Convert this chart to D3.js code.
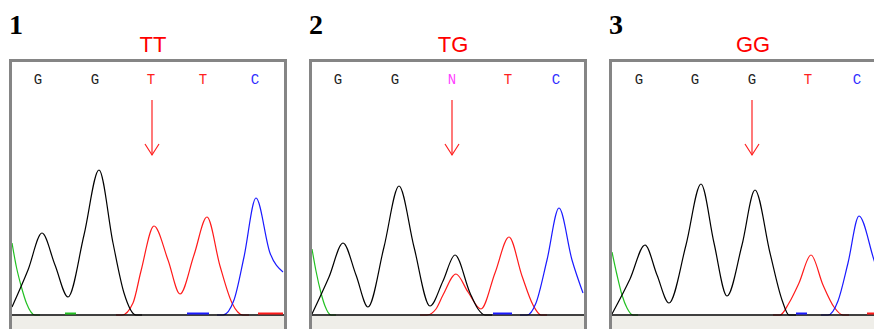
<!DOCTYPE html>
<html>
<head>
<meta charset="utf-8">
<script src="https://cdn.jsdelivr.net/npm/d3@7"></script>
<style>
  html, body { margin: 0; padding: 0; background: #fff; overflow: hidden; }
  svg { display: block; }
</style>
</head>
<body>
<script>
'use strict'

// panel headings
const panelNumbers = ['1', '2', '3']
const genotypes = ['TT', 'TG', 'GG']

// base calls printed on top of each trace, with their scan positions
const baseCalls = [
  ['G', 'G', 'T', 'T', 'C'],
  ['G', 'G', 'N', 'T', 'C'],
  ['G', 'G', 'G', 'T', 'C']
]
const basePositions = [
  [26, 83, 139, 191, 243],
  [26, 83, 140, 196, 244],
  [27, 83, 140, 196, 245]
]
const snpPosition = [140, 140, 140]

// traces: [scan position, intensity]
const panel1G = [[0, 8], [16, 45], [30, 82], [43, 50], [56, 18], [72, 80], [87, 145],
  [101, 72], [112, 22], [124, 0], [130, 0]]
const panel1A = [[0, 72], [4.4, 48], [9.4, 28], [14.4, 12], [23, 0], [28, 0]]
const panel1T = [[104, 0], [110, 0], [121, 12], [129, 44], [142, 89], [156, 55], [168, 21],
  [182, 60], [195, 98], [208, 49], [220, 12], [231, 0], [237, 0]]
const panel1C = [[205, 0], [211, 0], [222, 15], [232, 58], [244, 117], [258, 62], [271, 43]]

const panel2G = [[0, 1], [17, 38], [31, 72], [44, 40], [56, 8], [72, 68], [87, 129],
  [102, 68], [118, 9], [131, 34], [143, 60], [158, 22], [166, 6], [173, 0], [180, 0]]
const panel2A = [[0, 66], [4, 44], [9, 22], [13, 9], [19, 0], [24, 0]]
const panel2T = [[108, 0], [115, 0], [124, 6], [131, 20], [144, 41], [156, 23], [169, 6],
  [183, 42], [197, 78], [210, 39], [221, 10], [229, 0], [235, 0]]
const panel2C = [[208, 0], [215, 0], [224, 12], [235, 55], [247, 107], [260, 55], [271, 22]]

const panel3G = [[0, 1], [18, 36], [33, 70], [45, 40], [57, 12], [74, 70], [89, 131],
  [102, 72], [115, 19], [130, 70], [143, 125], [158, 62], [170, 15], [177, 0], [184, 0]]
const panel3A = [[0, 63], [5, 40], [10, 20], [15, 7], [21, 0], [26, 0]]
const panel3T = [[161, 0], [168, 0], [177, 12], [187, 32], [199, 60], [211, 30], [222, 8],
  [231, 0], [237, 0]]
const panel3C = [[209, 0], [216, 0], [226, 14], [236, 52], [247, 99], [262, 55], [272, 25]]

// short flat pieces lying on the baseline: [channel, from, to]
const panel1Flat = [['A', 53, 64], ['C', 175, 197], ['T', 246, 271]]
const panel2Flat = [['C', 181, 200]]
const panel3Flat = [['C', 184, 195], ['T', 255, 272]]

const traces = [
  { G: panel1G, A: panel1A, T: panel1T, C: panel1C, flat: panel1Flat },
  { G: panel2G, A: panel2A, T: panel2T, C: panel2C, flat: panel2Flat },
  { G: panel3G, A: panel3A, T: panel3T, C: panel3C, flat: panel3Flat }
]

const channelColor = { G: '#000000', A: '#22c022', T: '#ff1a1a', C: '#1a1aff', N: '#ff33ff' }
const letterColor = { G: '#222222', A: '#22a022', T: '#ff2020', C: '#3030ff', N: '#ff40ff' }

const width = 874
const height = 329
const panelStep = 300
const outer = { left: 9, top: 59, width: 278 }
const border = 3
const innerWidth = outer.width - 2 * border
const innerTop = outer.top + border
const baselineY = 315

const svg = d3.select('body').append('svg')
  .attr('width', width)
  .attr('height', height)

const scaleY = d3.scaleLinear().domain([0, 150]).range([baselineY, baselineY - 150])

const frames = svg.append('g').attr('class', 'frames')
const plots = svg.append('g').attr('class', 'plots')
const labels = svg.append('g').attr('class', 'labels')

for (let i = 0; i < 3; ++i) {
  const x0 = outer.left + i * panelStep
  const left = x0 + border
  const scaleX = d3.scaleLinear().domain([0, innerWidth]).range([left, left + innerWidth])
  const line = d3.line()
    .x(function (d) { return scaleX(d[0]) })
    .y(function (d) { return scaleY(d[1]) })
    .curve(d3.curveMonotoneX)

  svg.append('clipPath')
    .attr('id', 'inner' + i)
    .append('rect')
    .attr('x', left)
    .attr('y', innerTop)
    .attr('width', innerWidth)
    .attr('height', height - innerTop)

  // open-bottomed frame: the panel continues below the picture edge
  const bl = x0 + border / 2
  const br = x0 + outer.width - border / 2
  const bt = outer.top + border / 2
  frames.append('path')
    .attr('d', 'M' + bl + ',' + height + 'V' + bt + 'H' + br + 'V' + height)
    .attr('fill', 'none')
    .attr('stroke', '#858585')
    .attr('stroke-width', border)

  const body = plots.append('g').attr('clip-path', 'url(#inner' + i + ')')
  body.append('rect')
    .attr('x', left)
    .attr('y', baselineY + 1)
    .attr('width', innerWidth)
    .attr('height', height - baselineY - 1)
    .attr('fill', '#efeee9')

  body.selectAll('path.trace')
    .data(['A', 'T', 'C', 'G'])
    .enter()
    .append('path')
    .attr('class', 'trace')
    .attr('d', function (d) { return line(traces[i][d]) })
    .attr('fill', 'none')
    .attr('stroke', function (d) { return channelColor[d] })
    .attr('stroke-width', 1.2)

  body.append('line')
    .attr('x1', left).attr('x2', left + innerWidth)
    .attr('y1', baselineY).attr('y2', baselineY)
    .attr('stroke', '#000000')
    .attr('stroke-width', 1.5)

  body.selectAll('line.flat')
    .data(traces[i].flat)
    .enter()
    .append('line')
    .attr('class', 'flat')
    .attr('x1', function (d) { return scaleX(d[1]) })
    .attr('x2', function (d) { return scaleX(d[2]) })
    .attr('y1', baselineY - 1.5)
    .attr('y2', baselineY - 1.5)
    .attr('stroke', function (d) { return channelColor[d[0]] })
    .attr('stroke-width', 2)

  const ax = scaleX(snpPosition[i])
  plots.append('line')
    .attr('x1', ax).attr('x2', ax)
    .attr('y1', 100).attr('y2', 155)
    .attr('stroke', '#ff2020')
    .attr('stroke-width', 1.2)
  plots.append('path')
    .attr('d', 'M' + (ax - 7) + ',144L' + ax + ',155L' + (ax + 7) + ',144')
    .attr('fill', 'none')
    .attr('stroke', '#ff2020')
    .attr('stroke-width', 1.2)

  labels.append('text')
    .attr('x', x0)
    .attr('y', 34)
    .attr('font-family', '"Liberation Serif", "Times New Roman", serif')
    .attr('font-weight', 'bold')
    .attr('font-size', 28)
    .text(panelNumbers[i])

  labels.append('text')
    .attr('x', x0 + 144)
    .attr('y', 52)
    .attr('text-anchor', 'middle')
    .attr('font-family', '"Liberation Sans", Arial, sans-serif')
    .attr('font-size', 22)
    .attr('fill', '#ff0000')
    .text(genotypes[i])

  labels.selectAll('text.base' + i)
    .data(baseCalls[i])
    .enter()
    .append('text')
    .attr('class', 'base' + i)
    .attr('x', function (d, j) { return scaleX(basePositions[i][j]) })
    .attr('y', 84)
    .attr('text-anchor', 'middle')
    .attr('font-family', '"Liberation Mono", "Courier New", monospace')
    .attr('font-size', 14)
    .attr('fill', function (d) { return letterColor[d] })
    .text(function (d) { return d })
}
</script>
</body>
</html>
